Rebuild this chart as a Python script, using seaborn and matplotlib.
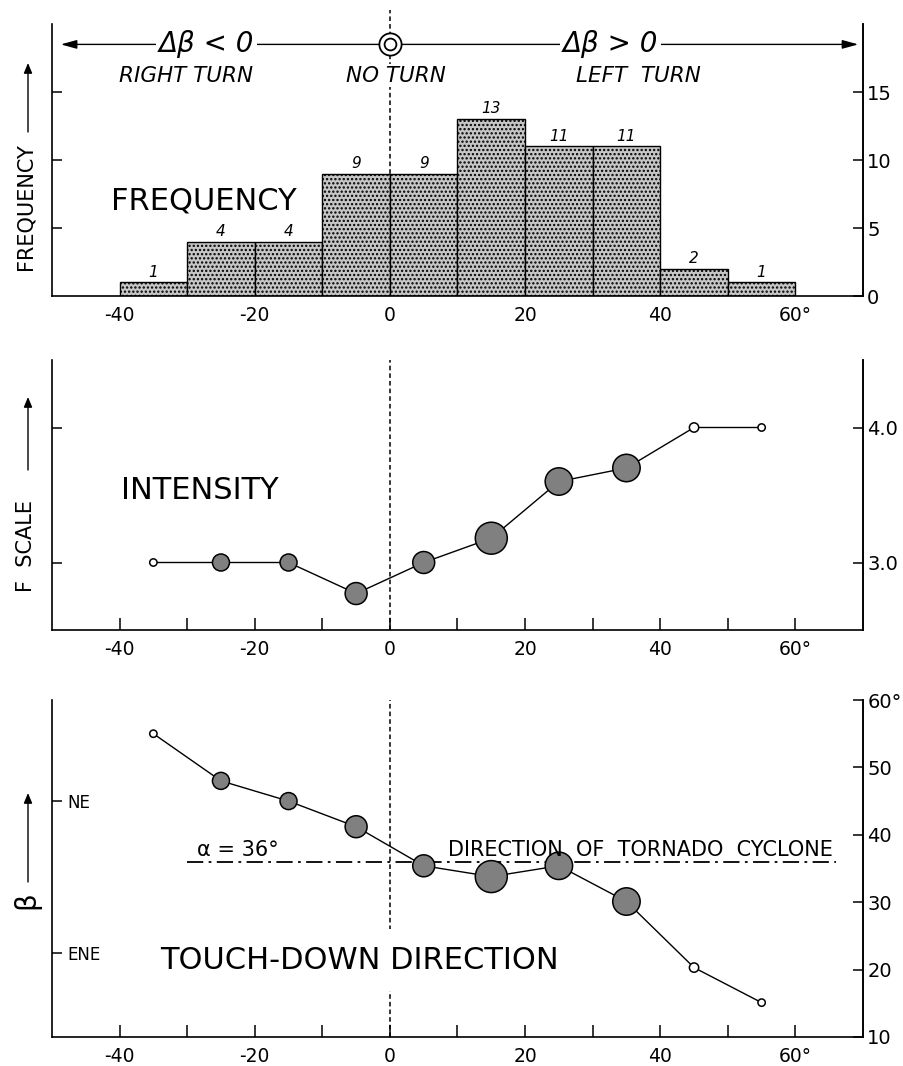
import numpy as np
import pandas as pd
import matplotlib
matplotlib.use("Agg")
import matplotlib.pyplot as plt
import seaborn as sns

# ---------------- data ----------------
delta_beta = [-35, -25, -15, -5, 5, 15, 25, 35, 45, 55]
frequency = [1, 4, 4, 9, 9, 13, 11, 11, 2, 1]
f_scale = [3.0, 3.0, 3.0, 2.77, 3.0, 3.18, 3.6, 3.7, 4.0, 4.0]
touchdown_beta = [55.0, 48.0, 45.0, 41.2, 35.4, 33.8, 35.4, 30.1, 20.3, 15.1]
alpha_deg = 36
bin_edges = [-40, -30, -20, -10, 0, 10, 20, 30, 40, 50, 60]

x_ticks = [-40, -30, -20, -10, 0, 10, 20, 30, 40, 50, 60]
x_tick_labels = ["-40", "", "-20", "", "0", "", "20", "", "40", "", "60°"]
freq_left_ticks = [5, 10, 15]
freq_right_ticks = [0, 5, 10, 15]
freq_right_labels = ["0", "5", "10", "15"]
fscale_ticks = [3.0, 4.0]
fscale_labels = ["3.0", "4.0"]
beta_right_ticks = [10, 20, 30, 40, 50, 60]
beta_right_labels = ["10", "20", "30", "40", "50", "60°"]
compass_ticks = [22.5, 45]
compass_labels = ["ENE", "NE"]

df = pd.DataFrame({"delta_beta": delta_beta, "frequency": frequency,
                   "f_scale": f_scale, "touchdown_beta": touchdown_beta})

# ---------------- style ----------------
sns.set_theme(style="ticks", rc={
    "axes.edgecolor": "black", "xtick.color": "black", "ytick.color": "black",
    "text.color": "black", "axes.labelcolor": "black", "axes.linewidth": 1.2,
    "hatch.linewidth": 1.1,
})
plt.rcParams["font.family"] = ["DejaVu Sans"]

W, H = 904, 1066
fig = plt.figure(figsize=(W / 100, H / 100), dpi=100)


def rect(l, t, r, b):
    return [l / W, 1 - b / H, (r - l) / W, (b - t) / H]


ax1 = fig.add_axes(rect(52, 24, 863, 296))
ax2 = fig.add_axes(rect(52, 360, 863, 630))
ax3 = fig.add_axes(rect(52, 700, 863, 1037))

marker_area = {1: 28, 2: 45, 4: 150, 9: 250, 11: 390, 13: 530}
marker_gray = "#808080"
dash = (0, (3, 2))


def right_axis(ax, ticks, labels):
    axr = ax.twinx()
    axr.set_ylim(ax.get_ylim())
    axr.set_yticks(ticks, labels)
    axr.tick_params(axis="y", direction="in", length=7, width=1.1, pad=3,
                    labelsize=14)
    for s in ["top", "left", "bottom"]:
        axr.spines[s].set_visible(False)
    axr.grid(False)
    return axr


for ax in (ax1, ax2, ax3):
    ax.set_xlim(-50, 70)
    ax.set_xticks(x_ticks, x_tick_labels)
    ax.tick_params(axis="x", direction="in", length=8.5, width=1.1, pad=7,
                   labelsize=13.5)
    ax.tick_params(axis="y", direction="in", length=7, width=1.1)
    ax.spines["top"].set_visible(False)
    ax.grid(False)

# ---------------- panel 1: frequency ----------------
sns.histplot(data=df, x="delta_beta", weights="frequency", bins=bin_edges,
             ax=ax1, facecolor="#c6c6c6", edgecolor="black", linewidth=1.0,
             hatch="....", alpha=1, zorder=2)
ax1.bar_label(ax1.containers[0], padding=2, fontsize=11, style="italic")
ax1.set_ylim(0, 20)
ax1.set_yticks(freq_left_ticks)
ax1.tick_params(axis="y", labelleft=False)
ax1.tick_params(axis="x", length=0)
ax1.set_xlabel("")
ax1.set_ylabel("")
right_axis(ax1, freq_right_ticks, freq_right_labels)
ax1.axvline(0, ymin=0, ymax=1.05, clip_on=False, ls=dash, color="black",
            lw=1.1, zorder=1)

arrow_y = 18.5
for tip in (-48.7, 69.3):
    ax1.annotate("", xy=(tip, arrow_y), xytext=(0, arrow_y),
                 arrowprops=dict(arrowstyle="-|>,head_length=0.8,head_width=0.22",
                                 color="black", lw=1.0, shrinkA=0, shrinkB=0),
                 annotation_clip=False, zorder=2)
for xc, s in ((-27.1, "Δβ < 0"), (32.7, "Δβ > 0")):
    ax1.text(xc, arrow_y, s, ha="center", va="center", fontsize=20,
             style="italic", zorder=5,
             bbox=dict(fc="white", ec="none", pad=2))
ax1.plot(0, arrow_y, marker="o", ms=16, mfc="white", mec="black", mew=1.3,
         clip_on=False, zorder=6)
ax1.plot(0, arrow_y, marker="o", ms=8.5, mfc="white", mec="black", mew=1.3,
         clip_on=False, zorder=7)
for xc, s in ((-30.2, "RIGHT TURN"), (0.9, "NO TURN"), (36.7, "LEFT  TURN")):
    ax1.text(xc, 16.2, s, ha="center", va="center", fontsize=15.5,
             style="italic", zorder=5,
             bbox=dict(fc="white", ec="none", pad=1))
ax1.text(-27.5, 7.0, "FREQUENCY", ha="center", va="center", fontsize=22)

# ---------------- panel 2: intensity ----------------
sns.lineplot(data=df, x="delta_beta", y="f_scale", ax=ax2, color="black",
             linewidth=1.0, errorbar=None, zorder=2)
sns.scatterplot(data=df, x="delta_beta", y="f_scale", size="frequency",
                sizes=marker_area, ax=ax2, legend=False, color=marker_gray,
                edgecolor="black", linewidth=1.1, zorder=3)
ax2.collections[-1].set_facecolors(
    ["white" if c <= 2 else marker_gray for c in frequency])
ax2.set_ylim(2.5, 4.5)
ax2.set_yticks(fscale_ticks)
ax2.tick_params(axis="y", labelleft=False)
ax2.set_xlabel("")
ax2.set_ylabel("")
right_axis(ax2, fscale_ticks, fscale_labels)
ax2.axvline(0, ls=dash, color="black", lw=1.1, zorder=1)
ax2.text(-28.2, 3.53, "INTENSITY", ha="center", va="center", fontsize=22)

# ---------------- panel 3: touch-down direction ----------------
sns.lineplot(data=df, x="delta_beta", y="touchdown_beta", ax=ax3,
             color="black", linewidth=1.0, errorbar=None, zorder=2)
sns.scatterplot(data=df, x="delta_beta", y="touchdown_beta", size="frequency",
                sizes=marker_area, ax=ax3, legend=False, color=marker_gray,
                edgecolor="black", linewidth=1.1, zorder=3)
ax3.collections[-1].set_facecolors(
    ["white" if c <= 2 else marker_gray for c in frequency])
ax3.set_ylim(10, 60)
ax3.set_yticks(compass_ticks, compass_labels)
ax3.tick_params(axis="y", pad=-11, labelsize=12)
for t in ax3.get_yticklabels():
    t.set_horizontalalignment("left")
ax3.set_xlabel("")
ax3.set_ylabel("")
right_axis(ax3, beta_right_ticks, beta_right_labels)
ax3.axvline(0, ls=dash, color="black", lw=1.1, zorder=1)
ax3.plot([-30, 66], [alpha_deg, alpha_deg], ls=(0, (9, 3, 1.5, 3)),
         color="black", lw=1.3, zorder=1)
ax3.text(-28.5, alpha_deg + 0.8, f"α = {alpha_deg}°", ha="left",
         va="baseline", fontsize=15)
ax3.text(65.6, alpha_deg + 0.8, "DIRECTION  OF  TORNADO  CYCLONE",
         ha="right", va="baseline", fontsize=15)
ax3.text(-34, 21.4, "TOUCH-DOWN DIRECTION", ha="left", va="center",
         fontsize=22, zorder=4, bbox=dict(fc="white", ec="none", pad=12))

# ---------------- side labels with arrows ----------------
for label, yc, y0, y1, fs in (("FREQUENCY", 207, 132, 63, 15),
                              ("F  SCALE", 546, 470, 397, 15),
                              ("β", 900, 882, 793, 20)):
    fig.text(26 / W, 1 - yc / H, label, rotation=90, ha="center",
             va="center", fontsize=fs)
    fig.add_artist(matplotlib.patches.FancyArrowPatch(
        (28 / W, 1 - y0 / H), (28 / W, 1 - y1 / H),
        transform=fig.transFigure,
        arrowstyle="-|>,head_length=6,head_width=2.5", color="black",
        lw=1.0, shrinkA=0, shrinkB=0))

fig.savefig("out.png", dpi=100)
